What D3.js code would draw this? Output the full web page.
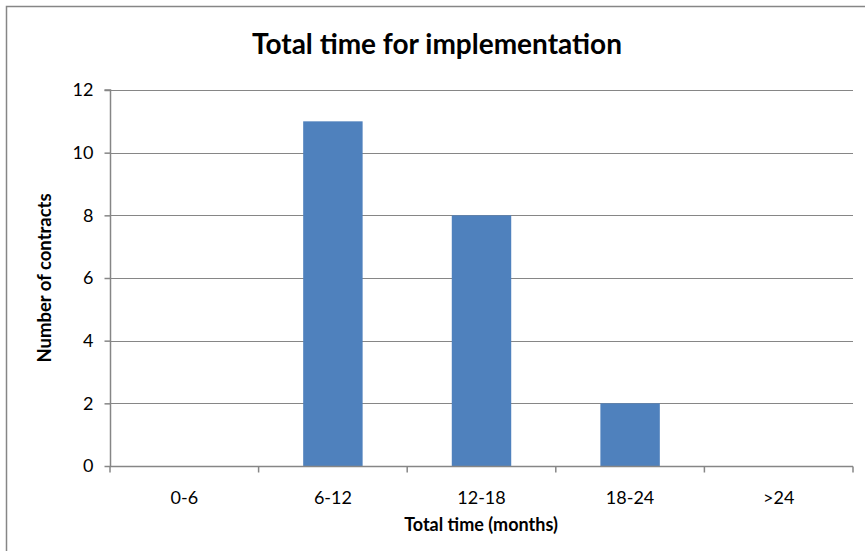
<!DOCTYPE html>
<html>
<head>
<meta charset="utf-8">
<script src="https://cdn.jsdelivr.net/npm/d3@7"></script>
<style>
  html, body { margin: 0; padding: 0; background: #fff; }
  svg { display: block; font-family: Lato, "Open Sans", sans-serif; }
</style>
</head>
<body>
<svg id="chart" width="865" height="551"></svg>
<script>
// Duration buckets and number of contracts in each
const categories = ["0-6", "6-12", "12-18", "18-24", ">24"];
const counts = [0, 11, 8, 2, 0];
const yTicks = [0, 2, 4, 6, 8, 10, 12];

const svg = d3.select("#chart");
const plot = { left: 110, right: 853, top: 90, bottom: 466 };

// Outer chart frame
svg.append("rect")
  .attr("x", 6.5).attr("y", 6.5)
  .attr("width", 900).attr("height", 600)
  .attr("fill", "#fff")
  .attr("stroke", "#868686").attr("stroke-width", 1.5);

const x = d3.scaleBand()
  .domain(categories)
  .range([plot.left, plot.right])
  .paddingInner(0.6)
  .paddingOuter(0.3);

const y = d3.scaleLinear()
  .domain([0, 12])
  .range([plot.bottom, plot.top]);

// Horizontal gridlines
svg.append("g")
  .selectAll("line")
  .data(yTicks.filter(d => d > 0))
  .join("line")
  .attr("x1", plot.left).attr("x2", plot.right)
  .attr("y1", d => Math.round(y(d)) + 0.5)
  .attr("y2", d => Math.round(y(d)) + 0.5)
  .attr("stroke", "#868686").attr("stroke-width", 1.2);

// Bars
svg.append("g")
  .selectAll("rect")
  .data(categories.map((c, i) => ({ c, v: counts[i] })).filter(d => d.v > 0))
  .join("rect")
  .attr("x", d => x(d.c))
  .attr("width", x.bandwidth())
  .attr("y", d => y(d.v))
  .attr("height", d => y(0) - y(d.v))
  .attr("fill", "#4F81BD");

// Y axis
const yAxis = svg.append("g")
  .attr("transform", `translate(${plot.left + 0.5},0)`)
  .call(d3.axisLeft(y).tickValues(yTicks).tickSize(6).tickPadding(11).tickFormat(d3.format("d")));
yAxis.select(".domain").attr("stroke", "#868686").attr("stroke-width", 1.5).attr("d", `M-6,${plot.top}H0V${plot.bottom}`);
yAxis.selectAll(".tick line").attr("stroke", "#868686").attr("stroke-width", 1.5);
yAxis.selectAll(".tick text").attr("font-size", 18).attr("fill", "#000")
  .attr("font-family", "Lato, 'Open Sans', sans-serif");

// X axis with ticks at category boundaries
const xAxisG = svg.append("g").attr("transform", `translate(0,${plot.bottom + 0.5})`);
xAxisG.append("line")
  .attr("x1", plot.left).attr("x2", plot.right)
  .attr("stroke", "#868686").attr("stroke-width", 1.5);
const step = x.step();
const boundaries = d3.range(categories.length + 1).map(i => plot.left + i * step);
xAxisG.selectAll("line.tick")
  .data(boundaries)
  .join("line")
  .attr("class", "tick")
  .attr("x1", d => d).attr("x2", d => d)
  .attr("y1", 0).attr("y2", 6)
  .attr("stroke", "#868686").attr("stroke-width", 1.5);
xAxisG.selectAll("text")
  .data(categories)
  .join("text")
  .attr("x", d => x(d) + x.bandwidth() / 2)
  .attr("y", 37)
  .attr("text-anchor", "middle")
  .attr("font-size", 18)
  .attr("fill", "#000")
  .text(d => d);

// Title
svg.append("text")
  .attr("x", 437).attr("y", 54)
  .attr("text-anchor", "middle")
  .attr("font-size", 28).attr("font-weight", "bold")
  .text("Total time for implementation");

// Axis titles
svg.append("text")
  .attr("x", 481).attr("y", 531)
  .attr("text-anchor", "middle")
  .attr("font-size", 18).attr("font-weight", "bold")
  .text("Total time (months)");

svg.append("text")
  .attr("transform", `translate(51,${(plot.top + plot.bottom) / 2}) rotate(-90)`)
  .attr("text-anchor", "middle")
  .attr("font-size", 18.5).attr("font-weight", "bold")
  .text("Number of contracts");
</script>
</body>
</html>
